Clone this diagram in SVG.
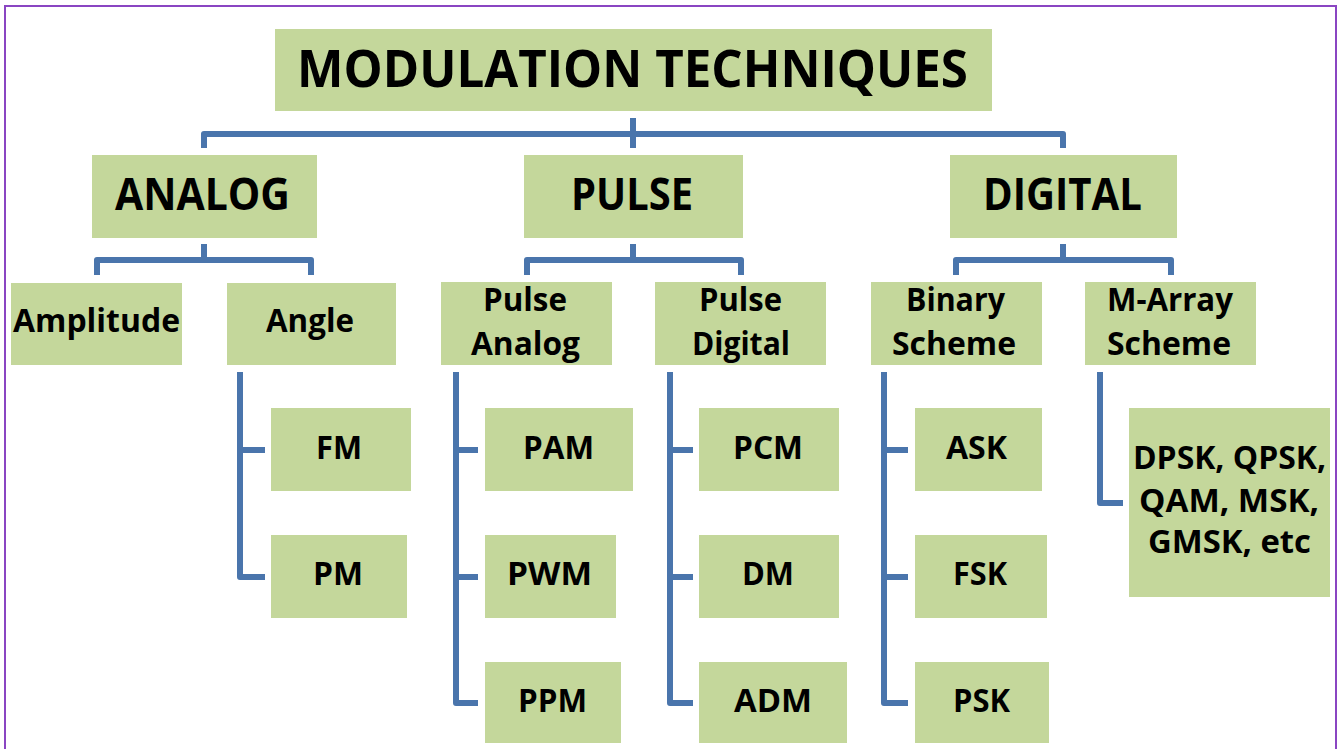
<svg xmlns="http://www.w3.org/2000/svg" width="1342" height="749" viewBox="0 0 1342 749">
<style>
.box{fill:#C4D79B;}
.t{font-family:"Open Sans","Liberation Sans",sans-serif;font-weight:bold;fill:#000;text-anchor:middle;}
.t1{font-size:52px;}
.t2{font-size:45px;}
.t3{font-size:33px;}
.c{fill:none;stroke:#4A75AC;stroke-width:6;stroke-linejoin:round;}
</style>
<rect x="0" y="0" width="1342" height="749" fill="#fff"/>
<rect x="5" y="6" width="1331" height="770" fill="none" stroke="#8A45C2" stroke-width="2"/>
<g id="connectors">
<path class="c" d="M204,148 V134 H1063 V148"/>
<path class="c" d="M633,118 V148"/>
<path class="c" d="M204,244 V260"/>
<path class="c" d="M97,275 V260 H311 V275"/>
<path class="c" d="M633,244 V260"/>
<path class="c" d="M527,275 V260 H741 V275"/>
<path class="c" d="M1063,244 V260"/>
<path class="c" d="M956,275 V260 H1171 V275"/>
<path class="c" d="M240,372 V577 H265 M240,450 H265"/>
<path class="c" d="M456,372 V703 H478 M456,450 H478 M456,577 H478"/>
<path class="c" d="M670,372 V703 H693 M670,450 H693 M670,577 H693"/>
<path class="c" d="M884,372 V703 H908 M884,450 H908 M884,577 H908"/>
<path class="c" d="M1100,372 V503 H1123"/>
</g>
<g id="n-title"><rect class="box" x="275" y="29" width="717" height="82"/><text class="t t1" x="632.5" y="87" textLength="671" lengthAdjust="spacingAndGlyphs">MODULATION TECHNIQUES</text></g>
<g id="n-analog"><rect class="box" x="92" y="155" width="225" height="83"/><text class="t t2" x="202.5" y="210" textLength="175" lengthAdjust="spacingAndGlyphs">ANALOG</text></g>
<g id="n-pulse"><rect class="box" x="524" y="155" width="219" height="83"/><text class="t t2" x="632" y="210" textLength="122" lengthAdjust="spacingAndGlyphs">PULSE</text></g>
<g id="n-digital"><rect class="box" x="950" y="155" width="227" height="83"/><text class="t t2" x="1062.5" y="210" textLength="159" lengthAdjust="spacingAndGlyphs">DIGITAL</text></g>
<g id="n-amplitude"><rect class="box" x="11" y="283" width="171" height="82"/><text class="t t3" x="96.5" y="332" textLength="167" lengthAdjust="spacingAndGlyphs">Amplitude</text></g>
<g id="n-angle"><rect class="box" x="227" y="283" width="169" height="82"/><text class="t t3" x="310" y="332" textLength="88" lengthAdjust="spacingAndGlyphs">Angle</text></g>
<g id="n-pulse-analog"><rect class="box" x="441" y="282" width="171" height="83"/><text class="t t3" x="525" y="311" textLength="84" lengthAdjust="spacingAndGlyphs">Pulse</text><text class="t t3" x="525.5" y="355" textLength="109" lengthAdjust="spacingAndGlyphs">Analog</text></g>
<g id="n-pulse-digital"><rect class="box" x="655" y="282" width="171" height="83"/><text class="t t3" x="740.5" y="311" textLength="83" lengthAdjust="spacingAndGlyphs">Pulse</text><text class="t t3" x="741" y="355" textLength="98" lengthAdjust="spacingAndGlyphs">Digital</text></g>
<g id="n-binary"><rect class="box" x="871" y="282" width="171" height="83"/><text class="t t3" x="955.5" y="311" textLength="99" lengthAdjust="spacingAndGlyphs">Binary</text><text class="t t3" x="954" y="355" textLength="124" lengthAdjust="spacingAndGlyphs">Scheme</text></g>
<g id="n-marray"><rect class="box" x="1085" y="282" width="171" height="83"/><text class="t t3" x="1170" y="311" textLength="126" lengthAdjust="spacingAndGlyphs">M-Array</text><text class="t t3" x="1169" y="355" textLength="124" lengthAdjust="spacingAndGlyphs">Scheme</text></g>
<g id="n-fm"><rect class="box" x="271" y="408" width="140" height="83"/><text class="t t3" x="339" y="459" textLength="46" lengthAdjust="spacingAndGlyphs">FM</text></g>
<g id="n-pm"><rect class="box" x="271" y="535" width="136" height="83"/><text class="t t3" x="338" y="585" textLength="50" lengthAdjust="spacingAndGlyphs">PM</text></g>
<g id="n-pam"><rect class="box" x="485" y="408" width="148" height="83"/><text class="t t3" x="558.5" y="459" textLength="71" lengthAdjust="spacingAndGlyphs">PAM</text></g>
<g id="n-pwm"><rect class="box" x="485" y="535" width="131" height="83"/><text class="t t3" x="549.5" y="585" textLength="85" lengthAdjust="spacingAndGlyphs">PWM</text></g>
<g id="n-ppm"><rect class="box" x="485" y="662" width="136" height="81"/><text class="t t3" x="552.5" y="712" textLength="69" lengthAdjust="spacingAndGlyphs">PPM</text></g>
<g id="n-pcm"><rect class="box" x="699" y="408" width="140" height="83"/><text class="t t3" x="768" y="459" textLength="70" lengthAdjust="spacingAndGlyphs">PCM</text></g>
<g id="n-dm"><rect class="box" x="699" y="535" width="140" height="83"/><text class="t t3" x="768" y="585" textLength="52" lengthAdjust="spacingAndGlyphs">DM</text></g>
<g id="n-adm"><rect class="box" x="699" y="662" width="148" height="81"/><text class="t t3" x="773" y="712" textLength="78" lengthAdjust="spacingAndGlyphs">ADM</text></g>
<g id="n-ask"><rect class="box" x="915" y="408" width="127" height="83"/><text class="t t3" x="976.5" y="459" textLength="61" lengthAdjust="spacingAndGlyphs">ASK</text></g>
<g id="n-fsk"><rect class="box" x="915" y="535" width="132" height="83"/><text class="t t3" x="980" y="585" textLength="54" lengthAdjust="spacingAndGlyphs">FSK</text></g>
<g id="n-psk"><rect class="box" x="915" y="662" width="134" height="81"/><text class="t t3" x="981.5" y="712" textLength="57" lengthAdjust="spacingAndGlyphs">PSK</text></g>
<g id="n-dpsk"><rect class="box" x="1129" y="408" width="201" height="189"/><text class="t t3" x="1229.5" y="469" textLength="193" lengthAdjust="spacingAndGlyphs">DPSK, QPSK,</text><text class="t t3" x="1229" y="512" textLength="180" lengthAdjust="spacingAndGlyphs">QAM, MSK,</text><text class="t t3" x="1229.5" y="553" textLength="163" lengthAdjust="spacingAndGlyphs">GMSK, etc</text></g>
</svg>
